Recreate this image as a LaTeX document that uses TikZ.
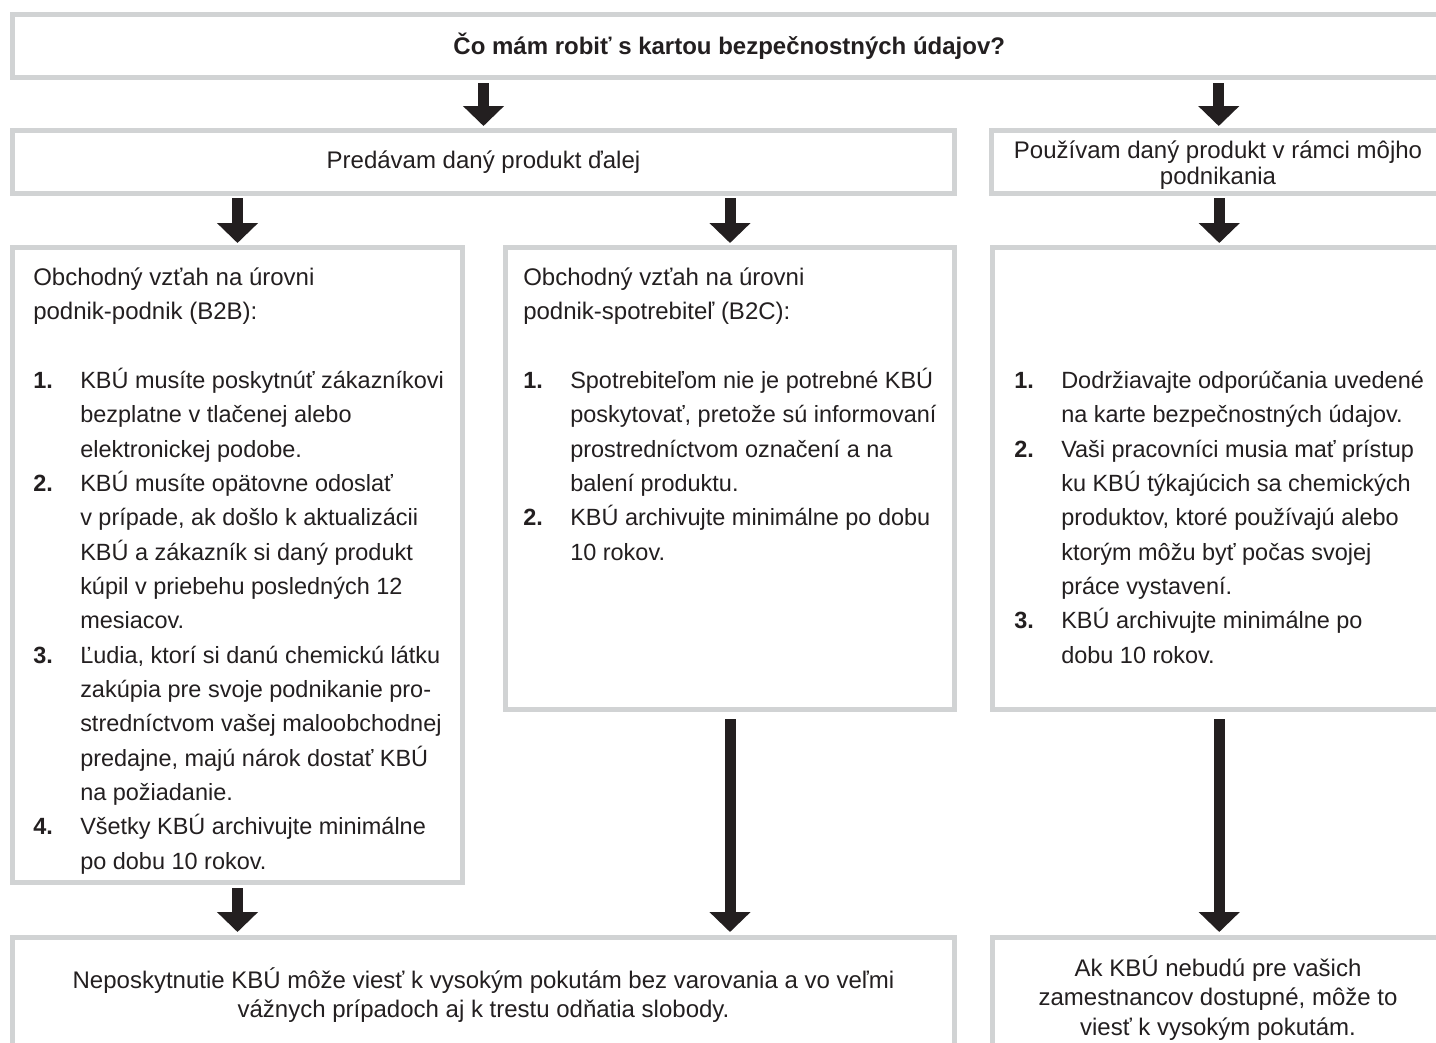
\documentclass[tikz,border=0pt]{standalone}
\usepackage{fontspec}
\setmainfont{Liberation Sans}
\usetikzlibrary{arrows.meta}
\definecolor{boxgray}{HTML}{D1D3D4}
\definecolor{ink}{HTML}{231F20}
\newcommand\lnum[1]{\makebox[35.25pt][l]{\textbf{#1}}}
\newcommand\lcont{\hspace*{35.25pt}}
\newcommand\hdr[1]{{\fontsize{18}{25.75}\selectfont #1}}
\tikzset{
  box/.style={draw=boxgray, line width=3.75pt, fill=white, rectangle, inner sep=0pt},
  bigarrow/.style={draw=ink, line width=8.25pt, -{Triangle[width=30pt,length=15pt]}},
  txt/.style={text=ink, inner sep=0pt, font=\fontsize{18}{24}\selectfont},
  listtxt/.style={txt, anchor=north west, align=left, font=\fontsize{17.6}{25.75}\selectfont},
}
\begin{document}
\begin{tikzpicture}[x=0.75pt,y=-0.75pt]
\useasboundingbox (0,0) rectangle (1436,1043);
\clip (0,0) rectangle (1436,1043);
\fill[white] (0,0) rectangle (1436,1043);

% boxes
\node[box, minimum width=1075.125pt, minimum height=47.25pt] (top) at (729.25,46) {};
\node[box, minimum width=706.5pt, minimum height=47.25pt] (sell) at (483.5,162) {};
\node[box, minimum width=340.875pt, minimum height=47.25pt] (use) at (1218.75,162) {};
\node[box, minimum width=337.5pt, minimum height=476.25pt] (b2b) at (237.5,565) {};
\node[box, minimum width=336.75pt, minimum height=346.5pt] (b2c) at (730,478.5) {};
\node[box, minimum width=340.125pt, minimum height=346.5pt] (rt) at (1219.25,478.5) {};
\node[box, minimum width=706.5pt, minimum height=99.375pt] (botl) at (483.5,1003.75) {};
\node[box, minimum width=340.125pt, minimum height=99.375pt] (botr) at (1219.25,1003.75) {};

% arrows
\draw[bigarrow, shorten <=2.25pt, shorten >=1.5pt] (top.south -| sell.north) -- (sell.north);
\draw[bigarrow, shorten <=2.25pt, shorten >=1.5pt] (top.south -| use.north) -- (use.north);
\draw[bigarrow, shorten <=1.5pt, shorten >=1.5pt] (sell.south -| b2b.north) -- (b2b.north);
\draw[bigarrow, shorten <=1.5pt, shorten >=1.5pt] (sell.south -| b2c.north) -- (b2c.north);
\draw[bigarrow, shorten <=1.5pt, shorten >=1.5pt] (use.south -| rt.north) -- (rt.north);
\draw[bigarrow, shorten <=2.25pt, shorten >=2.25pt] (b2b.south) -- (b2b.south |- botl.north);
\draw[bigarrow, shorten <=5.25pt, shorten >=2.25pt] (b2c.south) -- (b2c.south |- botl.north);
\draw[bigarrow, shorten <=5.25pt, shorten >=2.25pt] (rt.south) -- (rt.south |- botr.north);

% texts
\node[txt, font=\bfseries\fontsize{18}{24}\selectfont] (ttl) at (top.center) {Čo mám robiť s kartou bezpečnostných údajov?};
\node[txt] (sellt) at (sell.center) {Predávam daný produkt ďalej};
\node[txt, align=center, font=\fontsize{18}{19.5}\selectfont] (uset) at (1218,165) {Používam daný produkt v rámci môjho\\podnikania};

\node[listtxt] (b2bt) at (33,258.4) {\rule{0pt}{20pt}\hdr{Obchodný vzťah na úrovni}\\
\hdr{podnik-podnik (B2B):}\\
\mbox{}\\
\lnum{1.}KBÚ musíte poskytnúť zákazníkovi\\
\lcont bezplatne v tlačenej alebo\\
\lcont elektronickej podobe.\\
\lnum{2.}KBÚ musíte opätovne odoslať\\
\lcont v prípade, ak došlo k aktualizácii\\
\lcont KBÚ a zákazník si daný produkt\\
\lcont kúpil v priebehu posledných 12\\
\lcont mesiacov.\\
\lnum{3.}Ľudia, ktorí si danú chemickú látku\\
\lcont zakúpia pre svoje podnikanie pro-\\
\lcont stredníctvom vašej maloobchodnej\\
\lcont predajne, majú nárok dostať KBÚ\\
\lcont na požiadanie.\\
\lnum{4.}Všetky KBÚ archivujte minimálne\\
\lcont po dobu 10 rokov.};

\node[listtxt] (b2ct) at (523,258.4) {\rule{0pt}{20pt}\hdr{Obchodný vzťah na úrovni}\\
\hdr{podnik-spotrebiteľ (B2C):}\\
\mbox{}\\
\lnum{1.}Spotrebiteľom nie je potrebné KBÚ\\
\lcont poskytovať, pretože sú informovaní\\
\lcont prostredníctvom označení a na\\
\lcont balení produktu.\\
\lnum{2.}KBÚ archivujte minimálne po dobu\\
\lcont 10 rokov.};

\node[listtxt] (rtt) at (1014,258.4) {\rule{0pt}{20pt}\\
\mbox{}\\
\mbox{}\\
\lnum{1.}Dodržiavajte odporúčania uvedené\\
\lcont na karte bezpečnostných údajov.\\
\lnum{2.}Vaši pracovníci musia mať prístup\\
\lcont ku KBÚ týkajúcich sa chemických\\
\lcont produktov, ktoré používajú alebo\\
\lcont ktorým môžu byť počas svojej\\
\lcont práce vystavení.\\
\lnum{3.}KBÚ archivujte minimálne po\\
\lcont dobu 10 rokov.};

\node[txt, align=center, font=\fontsize{18}{22}\selectfont] (botlt) at (483.5,995) {Neposkytnutie KBÚ môže viesť k vysokým pokutám bez varovania a vo veľmi\\vážnych prípadoch aj k trestu odňatia slobody.};
\node[txt, align=center, font=\fontsize{18}{22}\selectfont] (botrt) at (1218,998) {Ak KBÚ nebudú pre vašich\\zamestnancov dostupné, môže to\\viesť k vysokým pokutám.};
\end{tikzpicture}
\end{document}
